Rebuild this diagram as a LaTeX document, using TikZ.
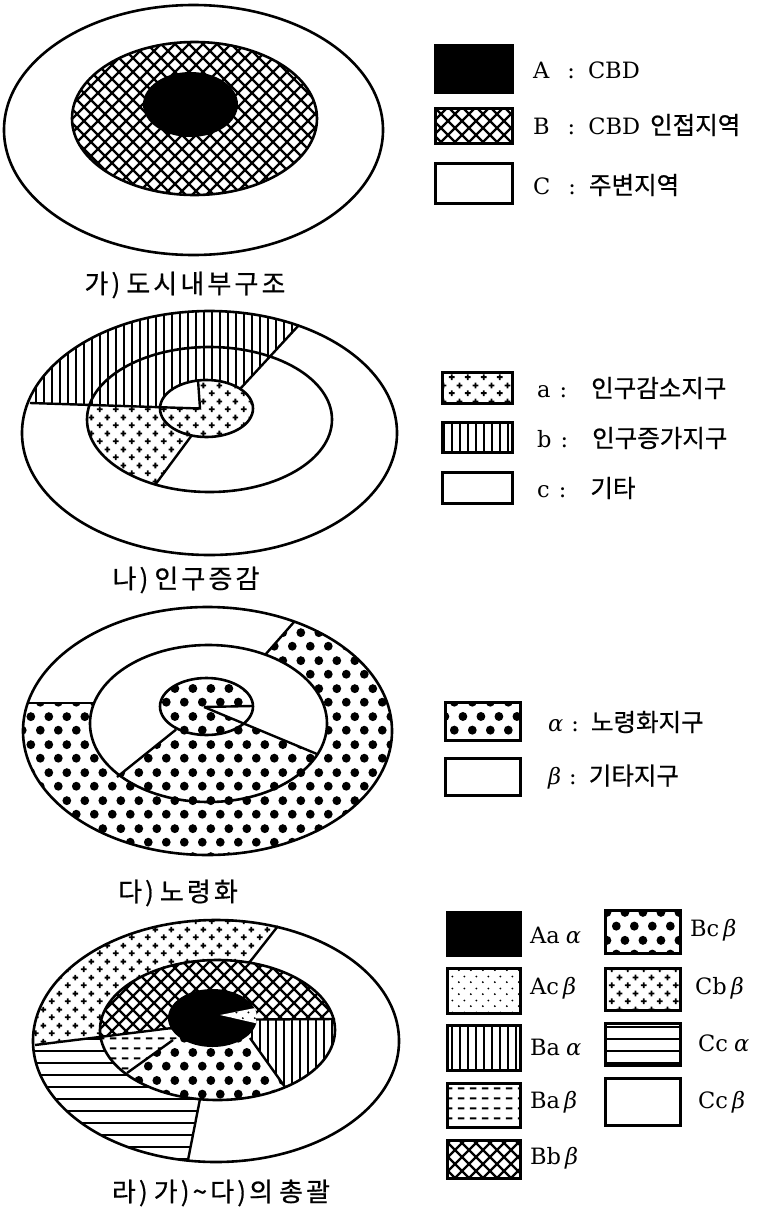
\documentclass[tikz,border=0pt]{standalone}
\usepackage{fontspec}
\setmainfont{DejaVu Serif}
\newfontfamily\kr{Noto Sans CJK KR}[FakeBold=0.6]
\usetikzlibrary{patterns}

\pgfdeclarepatternformonly{xhatch}{\pgfqpoint{-1pt}{-1pt}}{\pgfqpoint{15pt}{15pt}}{\pgfqpoint{14pt}{14pt}}{%
  \pgfsetlinewidth{2.3pt}%
  \pgfpathmoveto{\pgfqpoint{-1pt}{-1pt}}\pgfpathlineto{\pgfqpoint{15pt}{15pt}}%
  \pgfpathmoveto{\pgfqpoint{-1pt}{15pt}}\pgfpathlineto{\pgfqpoint{15pt}{-1pt}}%
  \pgfusepath{stroke}}
\pgfdeclarepatternformonly{vlines}{\pgfqpoint{-1pt}{-1pt}}{\pgfqpoint{9pt}{9pt}}{\pgfqpoint{8pt}{8pt}}{%
  \pgfsetlinewidth{2.8pt}%
  \pgfpathmoveto{\pgfqpoint{4pt}{-1pt}}\pgfpathlineto{\pgfqpoint{4pt}{9pt}}%
  \pgfusepath{stroke}}
\pgfdeclarepatternformonly{hlines}{\pgfqpoint{-1pt}{-1pt}}{\pgfqpoint{13pt}{13pt}}{\pgfqpoint{12pt}{12pt}}{%
  \pgfsetlinewidth{2.3pt}%
  \pgfpathmoveto{\pgfqpoint{-1pt}{6pt}}\pgfpathlineto{\pgfqpoint{13pt}{6pt}}%
  \pgfusepath{stroke}}
\pgfdeclarepatternformonly{hdash}{\pgfqpoint{0pt}{0pt}}{\pgfqpoint{12pt}{10pt}}{\pgfqpoint{12pt}{10pt}}{%
  \pgfsetlinewidth{2.3pt}%
  \pgfpathmoveto{\pgfqpoint{2pt}{5pt}}\pgfpathlineto{\pgfqpoint{9pt}{5pt}}%
  \pgfusepath{stroke}}
\pgfdeclarepatternformonly{plusdots}{\pgfqpoint{0pt}{0pt}}{\pgfqpoint{16pt}{16pt}}{\pgfqpoint{16pt}{16pt}}{%
  \pgfsetlinewidth{1.9pt}%
  \pgfpathmoveto{\pgfqpoint{1pt}{4pt}}\pgfpathlineto{\pgfqpoint{7pt}{4pt}}%
  \pgfpathmoveto{\pgfqpoint{4pt}{1pt}}\pgfpathlineto{\pgfqpoint{4pt}{7pt}}%
  \pgfpathmoveto{\pgfqpoint{9pt}{12pt}}\pgfpathlineto{\pgfqpoint{15pt}{12pt}}%
  \pgfpathmoveto{\pgfqpoint{12pt}{9pt}}\pgfpathlineto{\pgfqpoint{12pt}{15pt}}%
  \pgfusepath{stroke}}
\pgfdeclarepatternformonly{bigdots}{\pgfqpoint{0pt}{0pt}}{\pgfqpoint{18pt}{28pt}}{\pgfqpoint{18pt}{28pt}}{%
  \pgfpathcircle{\pgfqpoint{4.5pt}{7pt}}{4.6pt}%
  \pgfpathcircle{\pgfqpoint{13.5pt}{21pt}}{4.6pt}%
  \pgfusepath{fill}}
\pgfdeclarepatternformonly{finedots}{\pgfqpoint{0pt}{0pt}}{\pgfqpoint{12pt}{12pt}}{\pgfqpoint{12pt}{12pt}}{%
  \pgfpathcircle{\pgfqpoint{3pt}{3pt}}{1.1pt}%
  \pgfpathcircle{\pgfqpoint{9pt}{9pt}}{1.1pt}%
  \pgfusepath{fill}}

\newcommand{\hk}[1]{{\kr\fontsize{24.5}{28}\selectfont #1}}
\newcommand{\grk}[1]{\textit{#1}}

\begin{document}
\begin{tikzpicture}[x=1pt,y=1pt,
  outl/.style={line width=2.6pt},
  div/.style={line width=2.4pt},
  lbox/.style={line width=3pt},
  lat/.style={font=\fontsize{22.5}{26}\selectfont, anchor=west, inner sep=0pt},
  captxt/.style={font=\kr\fontsize{26}{30}\selectfont\addfontfeature{LetterSpace=12}, inner sep=0pt},
  wpat/.style={fill=white, postaction={pattern=#1}}
]
\fill[white] (0,0) rectangle (766,-1213);
\useasboundingbox (0,0) rectangle (766,-1213);

% ---------- 가 ----------
\fill[white] (193.5,-130) ellipse [x radius=189.5pt, y radius=125pt];
\path[wpat=xhatch] (194.5,-118.5) ellipse [x radius=122.5pt, y radius=76.5pt];
\draw[outl] (193.5,-130) ellipse [x radius=189.5pt, y radius=125pt];
\draw[outl] (194.5,-118.5) ellipse [x radius=122.5pt, y radius=76.5pt];
\fill[black] (190.5,-104.5) ellipse [x radius=47.5pt, y radius=32.5pt];
\node[captxt] (c1) at (185,-285) {가)\hspace{6pt}도시내부구조};

\draw[lbox,fill=black] (435,-45) rectangle (512,-92);
\draw[lbox,pattern=xhatch] (435,-108) rectangle (512,-143);
\draw[lbox] (435,-163) rectangle (512,-203);
\node[lat] (tA) at (533,-70) {A\hspace{18pt}:\hspace{13pt}CBD};
\node[lat] (tB) at (533,-125) {B\hspace{18pt}:\hspace{13pt}CBD\hspace{10pt}\hk{인접지역}};
\node[lat] (tC) at (533,-185) {C\hspace{18pt}:\hspace{13pt}\hk{주변지역}};

% ---------- 나 ----------
\fill[white] (209.5,-433) ellipse [x radius=187.5pt, y radius=122pt];
\begin{scope}
  \clip (209.5,-433) ellipse [x radius=187.5pt, y radius=122pt];
  \fill[pattern=vlines] (-10,-402) -- (30,-403) -- (200,-408.5) -- (240,-389) -- (340,-279) -- (340,-270) -- (-10,-270) -- cycle;
\end{scope}
\begin{scope}
  \clip (209.5,-419.5) ellipse [x radius=122.5pt, y radius=72.5pt];
  \path[wpat=plusdots] (50,-403.6) -- (200,-408.5) -- (192,-435) -- (140,-505) -- (50,-505) -- cycle;
\end{scope}
\path[wpat=plusdots] (206.5,-408.5) ellipse [x radius=46.5pt, y radius=28.5pt];
\begin{scope}
  \clip (206.5,-408.5) ellipse [x radius=46.5pt, y radius=28.5pt];
  \fill[white] (200,-408.5) -- (150,-407) -- (150,-360) -- (195.3,-360) -- cycle;
\end{scope}
\draw[div] (30,-403) -- (200,-408.5) -- (198,-380);
\draw[div] (240,-389) -- (299,-325);
\draw[div] (192,-435) -- (155,-485);
\draw[outl] (209.5,-433) ellipse [x radius=187.5pt, y radius=122pt];
\draw[outl] (209.5,-419.5) ellipse [x radius=122.5pt, y radius=72.5pt];
\draw[outl] (206.5,-408.5) ellipse [x radius=46.5pt, y radius=28.5pt];
\node[captxt] (c2) at (186,-580) {나)\hspace{6pt}인구증감};

\draw[lbox,pattern=plusdots] (442,-372) rectangle (512,-403);
\draw[lbox,pattern=vlines] (442,-422) rectangle (512,-452);
\draw[lbox] (442,-472) rectangle (512,-503);
\node[lat] (ta) at (537,-388) {a\hspace{9pt}:\hspace{24pt}\hk{인구감소지구}};
\node[lat] (tb) at (537,-438) {b\hspace{9pt}:\hspace{24pt}\hk{인구증가지구}};
\node[lat] (tc) at (537,-488) {c\hspace{9pt}:\hspace{24pt}\hk{기타}};

% ---------- 다 ----------
\path[wpat=bigdots] (207.5,-731) ellipse [x radius=184.5pt, y radius=124pt];
\begin{scope}
  \clip (207.5,-731) ellipse [x radius=184.5pt, y radius=124pt];
  \fill[white] (-10,-703) -- (95,-703) -- (208,-720) -- (267,-652) -- (330,-587) -- (330,-580) -- (-10,-580) -- cycle;
\end{scope}
\fill[white] (208.5,-723.5) ellipse [x radius=118.5pt, y radius=78.5pt];
\begin{scope}
  \clip (208.5,-723.5) ellipse [x radius=118.5pt, y radius=78.5pt];
  \fill[pattern=bigdots] (204,-707) -- (100,-790.5) -- (100,-830) -- (345,-830) -- (345,-765) -- cycle;
\end{scope}
\path[wpat=bigdots] (206.5,-706.5) ellipse [x radius=46.5pt, y radius=28.5pt];
\begin{scope}
  \clip (206.5,-706.5) ellipse [x radius=46.5pt, y radius=28.5pt];
  \fill[white] (204,-707) -- (260,-705) -- (260,-730) -- cycle;
\end{scope}
\draw[div] (28,-703) -- (94,-703);
\draw[div] (265,-655) -- (294,-622);
\draw[div] (176,-729.6) -- (117,-777);
\draw[div] (204,-707) -- (317,-754);
\draw[div] (204,-707) -- (252,-706);
\draw[outl] (207.5,-731) ellipse [x radius=184.5pt, y radius=124pt];
\draw[outl] (208.5,-723.5) ellipse [x radius=118.5pt, y radius=78.5pt];
\draw[outl] (206.5,-706.5) ellipse [x radius=46.5pt, y radius=28.5pt];
\node[captxt] (c3) at (178,-893) {다)\hspace{6pt}노령화};

\draw[lbox,pattern=bigdots] (445,-702) rectangle (520,-740);
\draw[lbox] (445,-758) rectangle (520,-795);
\node[lat] (tal) at (548,-722) {\grk{α}\hspace{8pt}:\hspace{12pt}\hk{노령화지구}};
\node[lat] (tbe) at (548,-777) {\grk{β}\hspace{8pt}:\hspace{12pt}\hk{기타지구}};

% ---------- 라 ----------
\fill[white] (216,-1041) ellipse [x radius=183pt, y radius=121pt];
\begin{scope}
  \clip (216,-1041) ellipse [x radius=183pt, y radius=121pt];
  \fill[pattern=plusdots] (-10,-1050.6) -- (172,-1028) -- (217,-1030) -- (247.4,-965) -- (304,-893) -- (304,-870) -- (-10,-870) -- cycle;
  \fill[pattern=hlines] (-10,-1050.6) -- (172,-1028) -- (217,-1030) -- (202,-1090) -- (200,-1099) -- (185,-1175) -- (-10,-1175) -- cycle;
\end{scope}
\path[wpat=xhatch] (217.5,-1030) ellipse [x radius=117.5pt, y radius=70pt];
\begin{scope}
  \clip (217.5,-1030) ellipse [x radius=117.5pt, y radius=70pt];
  \path[wpat=vlines] (230,-1019.5) -- (345,-1019) -- (345,-1115) -- (305,-1115) -- (248,-1035) -- cycle;
  \path[wpat=bigdots] (212,-1025) -- (248,-1035) -- (305,-1115) -- (80,-1115) -- (80,-1106.7) -- (173,-1040) -- cycle;
  \path[wpat=hdash] (212,-1025) -- (173,-1040) -- (80,-1106.7) -- (80,-1039.4) -- (172,-1028) -- cycle;
\end{scope}
\fill[black] (212.5,-1018) ellipse [x radius=44.5pt, y radius=29pt];
\begin{scope}
  \clip (212.5,-1018) ellipse [x radius=44.5pt, y radius=29pt];
  \path[wpat=finedots] (220,-1015) -- (265,-1006) -- (265,-1025.3) -- cycle;
\end{scope}
\draw[div] (35,-1045) -- (172,-1028);
\draw[div] (249,-963) -- (278,-926);
\draw[div] (200,-1099) -- (188,-1160);
\draw[div] (256,-1019.5) -- (335,-1019);
\draw[div] (250,-1038) -- (285,-1087);
\draw[div] (173,-1040) -- (127,-1073);
\draw[outl] (216,-1041) ellipse [x radius=183pt, y radius=121pt];
\draw[outl] (217.5,-1030) ellipse [x radius=117.5pt, y radius=70pt];
\node[captxt] (c4) at (221,-1193) {라)\hspace{6pt}가)\textasciitilde 다)의\hspace{6pt}총괄};

\draw[lbox,fill=black] (447,-912) rectangle (520,-955);
\draw[lbox,pattern=finedots] (447,-968) rectangle (520,-1013);
\draw[lbox,pattern=vlines] (447,-1025) rectangle (520,-1070);
\draw[lbox,pattern=hdash] (447,-1083) rectangle (520,-1127);
\draw[lbox,pattern=xhatch] (447,-1140) rectangle (520,-1178);
\draw[lbox,pattern=bigdots] (605,-910) rectangle (680,-953);
\draw[lbox,pattern=plusdots] (605,-968) rectangle (680,-1010);
\draw[lbox,pattern=hlines] (605,-1023) rectangle (680,-1065);
\draw[lbox] (605,-1078) rectangle (680,-1125);
\node[lat] (l1) at (530,-935) {Aa\hspace{6pt}\grk{α}};
\node[lat] (l2) at (530,-988) {Ac\hspace{4pt}\grk{β}};
\node[lat] (l3) at (530,-1047) {Ba\hspace{6pt}\grk{α}};
\node[lat] (l4) at (530,-1102) {Ba\hspace{4pt}\grk{β}};
\node[lat] (l5) at (530,-1158) {Bb\hspace{4pt}\grk{β}};
\node[lat] (r1) at (690,-930) {Bc\hspace{4pt}\grk{β}};
\node[lat] (r2) at (695,-988) {Cb\hspace{4pt}\grk{β}};
\node[lat] (r3) at (698,-1043) {Cc\hspace{6pt}\grk{α}};
\node[lat] (r4) at (698,-1102) {Cc\hspace{4pt}\grk{β}};
\end{tikzpicture}
\end{document}
